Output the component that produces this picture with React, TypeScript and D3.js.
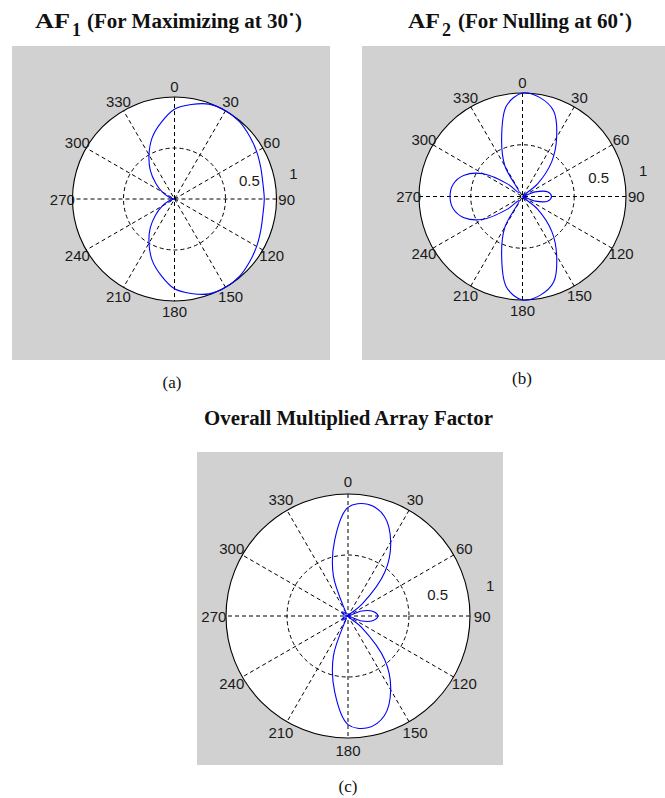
import React from "react"
import * as d3 from "d3"

// sample directions, degrees clockwise from the top (0 = north)
const thetaDeg = [
  0, 10, 20, 30, 40, 50, 60, 70, 80, 90, 100, 110, 120, 130, 140, 150, 160, 170,
  180, 190, 200, 210, 220, 230, 240, 250, 260, 270, 280, 290, 300, 310, 320, 330, 340, 350,
]

// AF1 (maximizing at 30)
const af1 = [
  0.88, 0.94, 0.99, 1.0, 0.99, 0.96, 0.93, 0.9, 0.88, 0.88, 0.88, 0.9, 0.93, 0.96, 0.99, 1.0, 0.99, 0.94,
  0.88, 0.76, 0.64, 0.5, 0.37, 0.24, 0.14, 0.06, 0.02, 0.0, 0.02, 0.06, 0.14, 0.24, 0.37, 0.5, 0.64, 0.76,
]

// AF2 (nulling at 60)
const af2 = [
  1.0, 0.97, 0.88, 0.66, 0.44, 0.19, 0.0, 0.13, 0.25, 0.28, 0.25, 0.13, 0.0, 0.19, 0.44, 0.66, 0.88, 0.97,
  1.0, 0.89, 0.59, 0.34, 0.05, 0.19, 0.44, 0.6, 0.68, 0.7, 0.68, 0.6, 0.44, 0.19, 0.05, 0.34, 0.59, 0.89,
]

// overall multiplied array factor
const afTotal = [
  0.89, 0.93, 0.87, 0.7, 0.47, 0.15, 0.0, 0.12, 0.21, 0.245, 0.21, 0.12, 0.0, 0.15, 0.47, 0.7, 0.87, 0.93,
  0.89, 0.63, 0.35, 0.04, 0.02, 0.05, 0.06, 0.04, 0.01, 0.0, 0.01, 0.04, 0.06, 0.05, 0.02, 0.04, 0.35, 0.63,
]

const angleTicks = [0, 30, 60, 90, 120, 150, 180, 210, 240, 270, 300, 330]
const spokeAngles = [0, 30, 60, 90, 120, 150]
const rTicks = [0.5, 1]

const rad = (deg: number) => (deg * Math.PI) / 180
const sansFont = "'Liberation Sans', Arial, sans-serif"
const serifFont = "'Liberation Serif', 'Times New Roman', serif"

interface PolarProps {
  cx: number
  cy: number
  r: number
  values: number[]
}

function PolarPlot({ cx, cy, r, values }: PolarProps) {
  const rScale = d3.scaleLinear().domain([0, 1]).range([0, r])

  const line = d3
    .lineRadial<number>()
    .angle((_, i) => rad(thetaDeg[i]))
    .radius((d) => rScale(d))
    .curve(d3.curveCatmullRomClosed.alpha(0.5))

  // radial tick labels sit just above the 90 spoke (MATLAB style)
  const rLabelPos: Record<string, [number, number]> = {
    "0.5": [0.735, -0.18],
    "1": [1.165, -0.25],
  }

  return (
    <g transform={`translate(${cx},${cy})`}>
      <circle r={rScale(1)} fill="#fff" />
      {rTicks
        .filter((t) => t < 1)
        .map((t) => (
          <circle
            key={t}
            r={rScale(t)}
            fill="none"
            stroke="#000"
            strokeWidth={1}
            strokeDasharray="4,3"
          />
        ))}
      {spokeAngles.map((a) => {
        const [x1, y1] = d3.pointRadial(rad(a), rScale(1))
        const [x2, y2] = d3.pointRadial(rad(a + 180), rScale(1))
        return (
          <line
            key={a}
            x1={x1}
            y1={y1}
            x2={x2}
            y2={y2}
            stroke="#000"
            strokeWidth={1}
            strokeDasharray="4,3"
          />
        )
      })}
      <circle r={rScale(1)} fill="none" stroke="#000" strokeWidth={1.1} />
      <path d={line(values) ?? ""} fill="none" stroke="#0000ff" strokeWidth={1.1} />
      {angleTicks.map((a) => {
        const [x, y] = d3.pointRadial(rad(a), rScale(1.1))
        return (
          <text
            key={a}
            x={x}
            y={y}
            textAnchor="middle"
            dominantBaseline="central"
            fontFamily={sansFont}
            fontSize={15}
            fill="#1a1a1a"
          >
            {a}
          </text>
        )
      })}
      {rTicks.map((t) => {
        const [fx, fy] = rLabelPos[String(t)]
        return (
          <text
            key={t}
            x={fx * r}
            y={fy * r}
            textAnchor="middle"
            dominantBaseline="central"
            fontFamily={sansFont}
            fontSize={15}
            fill="#1a1a1a"
          >
            {String(t)}
          </text>
        )
      })}
    </g>
  )
}

export default function App() {
  const grey = "#d1d1d1"
  return (
    <svg
      width={665}
      height={798}
      style={{ position: "absolute", left: 0, top: 0, background: "#fff" }}
    >
      {/* panel (a) */}
      <rect x={12} y={46} width={318} height={314} fill={grey} />
      <PolarPlot cx={174.5} cy={199} r={102} values={af1} />
      <g fontFamily={serifFont} fontWeight="bold" fill="#111">
        <text x={35} y={28} fontSize={20} textLength={35} lengthAdjust="spacingAndGlyphs">
          AF
        </text>
        <text x={72} y={36} fontSize={18}>
          1
        </text>
        <text x={87} y={28} fontSize={20} textLength={215} lengthAdjust="spacingAndGlyphs">
          (For Maximizing at 30˙)
        </text>
      </g>
      <text x={172} y={388} textAnchor="middle" fontFamily={serifFont} fontSize={17} fill="#111">
        (a)
      </text>

      {/* panel (b) */}
      <rect x={362} y={46} width={303} height={314} fill={grey} />
      <PolarPlot cx={522.5} cy={196.5} r={103.5} values={af2} />
      <g fontFamily={serifFont} fontWeight="bold" fill="#111">
        <text x={408} y={28} fontSize={20} textLength={32} lengthAdjust="spacingAndGlyphs">
          AF
        </text>
        <text x={442} y={36} fontSize={18}>
          2
        </text>
        <text x={458} y={28} fontSize={20} textLength={174} lengthAdjust="spacingAndGlyphs">
          (For Nulling at 60˙)
        </text>
      </g>
      <text x={522} y={384} textAnchor="middle" fontFamily={serifFont} fontSize={17} fill="#111">
        (b)
      </text>

      {/* panel (c) */}
      <text
        x={204}
        y={425}
        fontFamily={serifFont}
        fontWeight="bold"
        fontSize={20}
        fill="#111"
        textLength={289}
        lengthAdjust="spacingAndGlyphs"
      >
        Overall Multiplied Array Factor
      </text>
      <rect x={197} y={452} width={306} height={313} fill={grey} />
      <PolarPlot cx={348} cy={616} r={122} values={afTotal} />
      <text x={348} y={792} textAnchor="middle" fontFamily={serifFont} fontSize={17} fill="#111">
        (c)
      </text>
    </svg>
  )
}
